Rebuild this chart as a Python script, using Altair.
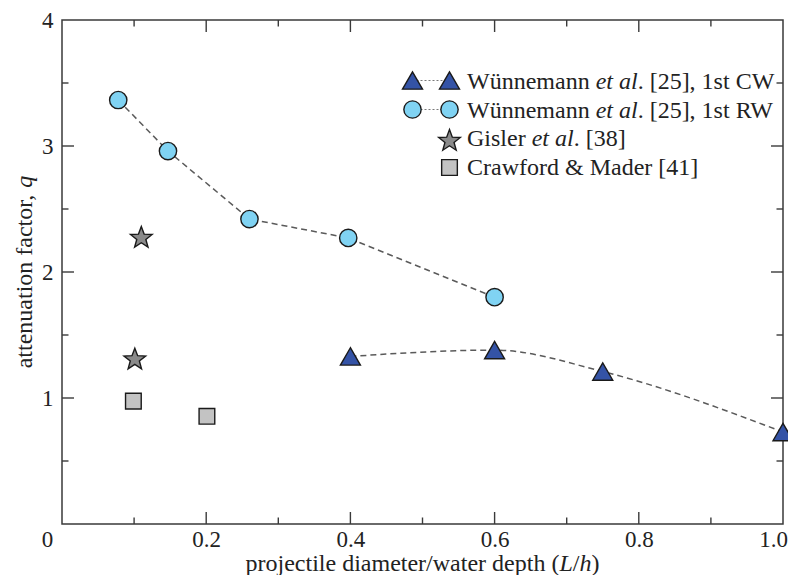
import altair as alt
import pandas as pd

# ---------------- data ----------------
cw_x = [0.40, 0.60, 0.75, 1.00]          # Wünnemann et al. [25], 1st CW (triangles)
cw_q = [1.33, 1.38, 1.21, 0.73]
rw_x = [0.078, 0.147, 0.26, 0.397, 0.60]  # Wünnemann et al. [25], 1st RW (circles)
rw_q = [3.365, 2.96, 2.42, 2.27, 1.80]
gisler_x = [0.110, 0.101]                 # Gisler et al. [38] (stars)
gisler_q = [2.27, 1.305]
cm_x = [0.099, 0.201]                     # Crawford & Mader [41] (squares)
cm_q = [0.975, 0.855]

x_major = [0.2, 0.4, 0.6, 0.8]
x_minor = [0.1, 0.3, 0.5, 0.7, 0.9]
y_major = [1, 2, 3]
y_minor = [0.5, 1.5, 2.5, 3.5]
x_labels = [0, 0.2, 0.4, 0.6, 0.8, 1.0]
y_labels = [1, 2, 3, 4]

legend_labels = [
    ("Wünnemann ", "et al", ". [25], 1st CW"),
    ("Wünnemann ", "et al", ". [25], 1st RW"),
    ("Gisler ", "et al", ". [38]"),
    ("Crawford & Mader [41]", "", ""),
]
x_title = ("projectile diameter/water depth (", "L", "/", "h", ")")
y_title = ("attenuation factor, ", "q")

# ---------------- layout / style ----------------
W, H = 721, 504
FONT = "Liberation Serif"
TICK_FS = 23
LEG_FS = 24
TITLE_FS = 24
AX = "#3a3a3a"
C_TRI = "#3453a6"
C_CIR = "#80d3f3"
C_STAR = "#8a8a8a"
C_SQ = "#c3c3c3"
EDGE = "#1a1a1a"
STAR = ("M0,-1L0.247,-0.34L0.951,-0.309L0.399,0.13L0.588,0.809L0,0.42"
        "L-0.588,0.809L-0.399,0.13L-0.951,-0.309L-0.247,-0.34Z")

# Times-compatible advance widths (1/1000 em)
REG = {c: 500 for c in "0123456789bdghknopquvxy"}
REG.update({"a": 444, "c": 444, "e": 444, "z": 444, "f": 333, "r": 333, "s": 389,
            "i": 278, "j": 278, "l": 278, "t": 278, "m": 778, "w": 722, "ü": 500,
            " ": 250, ",": 250, ".": 250, "/": 278, "(": 333, ")": 333, "[": 333,
            "]": 333, "&": 778, "W": 944, "G": 722, "C": 667, "M": 889, "R": 667})
ITA = {"e": 444, "t": 278, " ": 250, "a": 500, "l": 278, "L": 556, "h": 500, "q": 500}


def tw(s, size, italic=False):
    table = ITA if italic else REG
    return sum(table.get(ch, 500) for ch in s) / 1000.0 * size


one = pd.DataFrame({"k": [0]})

xs = alt.Scale(domain=[0, 1], nice=False, zero=False)
ys = alt.Scale(domain=[0, 4], nice=False, zero=False)
xaxis = alt.Axis(orient="bottom", values=x_labels,
                 labelExpr="datum.value == 0 ? '0' : format(datum.value, '.1f')",
                 labelOffset={"condition": [{"test": "datum.value == 0", "value": -15},
                                            {"test": "datum.value == 1", "value": -10}],
                              "value": 0},
                 labelFlush=False, domain=False, ticks=False, grid=False, title=None,
                 labelFont=FONT, labelFontSize=TICK_FS, labelColor="#222", labelPadding=4)
yaxis = alt.Axis(orient="left", values=y_labels, format="d", labelFlush=False, domain=False,
                 ticks=False, grid=False, title=None, labelFont=FONT, labelFontSize=TICK_FS,
                 labelColor="#222", labelPadding=9)


def X():
    return alt.X("x:Q", scale=xs, axis=xaxis)


def Y():
    return alt.Y("q:Q", scale=ys, axis=yaxis)


layers = []

# ---- dashed connecting lines ----
rw = pd.DataFrame({"x": rw_x, "q": rw_q})
cw = pd.DataFrame({"x": cw_x, "q": cw_q})
for d, interp in ((rw, "linear"), (cw, "monotone")):
    layers.append(alt.Chart(d).mark_line(color="#5a5a5a", strokeWidth=1.5, strokeDash=[6, 4],
                                         interpolate=interp).encode(x=X(), y=Y()))

# ---- inward ticks on all four sides ----
for vals, ln in ((y_major, 12), (y_minor, 6.5)):
    d = pd.DataFrame({"q": vals})
    layers.append(alt.Chart(d).mark_rule(color=AX, strokeWidth=1.4).encode(
        y=Y(), x=alt.value(0), x2=alt.value(ln)))
    layers.append(alt.Chart(d).mark_rule(color=AX, strokeWidth=1.4).encode(
        y=Y(), x=alt.value(W - ln), x2=alt.value(W)))
for vals, ln in ((x_major, 12), (x_minor, 6.5)):
    d = pd.DataFrame({"x": vals})
    layers.append(alt.Chart(d).mark_rule(color=AX, strokeWidth=1.4).encode(
        x=X(), y=alt.value(H - ln), y2=alt.value(H)))
    layers.append(alt.Chart(d).mark_rule(color=AX, strokeWidth=1.4).encode(
        x=X(), y=alt.value(0), y2=alt.value(ln)))

# ---- data points ----
series = [
    (cm_x, cm_q, "square", C_SQ, 246),
    (gisler_x, gisler_q, STAR, C_STAR, 520),
    (rw_x, rw_q, "circle", C_CIR, 300),
    (cw_x, cw_q, "triangle-up", C_TRI, 400),
]
for xv, qv, shape, fill, size in series:
    d = pd.DataFrame({"x": xv, "q": qv})
    layers.append(alt.Chart(d).mark_point(shape=shape, filled=True, fill=fill, stroke=EDGE,
                                          strokeWidth=1.4, size=size, opacity=1).encode(
        x=X(), y=Y()))

# ---- legend ----
LX = 405          # text start (plot px)
S1, S2 = 350.5, 387.5
row_y = [62, 90.5, 119, 147.5]
sym_y = [60.5, 89.5, 121, 147.5]
legend_syms = [
    [(S1, "triangle-up", C_TRI, 400), (S2, "triangle-up", C_TRI, 400)],
    [(S1, "circle", C_CIR, 300), (S2, "circle", C_CIR, 300)],
    [(S2, STAR, C_STAR, 520)],
    [(S2, "square", C_SQ, 246)],
]
for i, syms in enumerate(legend_syms):
    if len(syms) == 2:
        layers.append(alt.Chart(one).mark_rule(color="#7a7a7a", strokeWidth=1.2,
                                               strokeDash=[2, 2]).encode(
            x=alt.value(S1), x2=alt.value(S2), y=alt.value(sym_y[i])))
    for sx, shape, fill, size in syms:
        layers.append(alt.Chart(one).mark_point(shape=shape, filled=True, fill=fill, stroke=EDGE,
                                                strokeWidth=1.4, size=size, opacity=1).encode(
            x=alt.value(sx), y=alt.value(sym_y[i])))

for i, (pre, ital, post) in enumerate(legend_labels):
    x0 = LX
    for txt, italic in ((pre, False), (ital, True), (post, False)):
        if txt:
            layers.append(alt.Chart(one).mark_text(
                font=FONT, fontSize=LEG_FS, fontStyle="italic" if italic else "normal",
                align="left", baseline="middle", color="#222").encode(
                text=alt.value(txt.strip()), x=alt.value(x0), y=alt.value(row_y[i])))
            x0 += tw(txt, LEG_FS, italic)

# ---- axis titles (mixed italic) ----
xt_parts = [(x_title[0], False), (x_title[1], True), (x_title[2], False),
            (x_title[3], True), (x_title[4], False)]
total = sum(tw(t, TITLE_FS, it) for t, it in xt_parts)
x0 = W / 2 - total / 2
for t, it in xt_parts:
    layers.append(alt.Chart(one).mark_text(
        font=FONT, fontSize=TITLE_FS, fontStyle="italic" if it else "normal",
        align="left", baseline="alphabetic", color="#222").encode(
        text=alt.value(t), x=alt.value(x0), y=alt.value(H + 47)))
    x0 += tw(t, TITLE_FS, it)

yt_parts = [(y_title[0], False), (y_title[1], True)]
total = sum(tw(t, TITLE_FS, it) for t, it in yt_parts)
y0 = H / 2 + total / 2
for t, it in yt_parts:
    layers.append(alt.Chart(one).mark_text(
        font=FONT, fontSize=TITLE_FS, fontStyle="italic" if it else "normal",
        align="left", baseline="alphabetic", angle=270, color="#222").encode(
        text=alt.value(t.strip()), x=alt.value(-30), y=alt.value(y0)))
    y0 -= tw(t, TITLE_FS, it)

chart = alt.layer(*layers).properties(
    width=W, height=H,
    autosize=alt.AutoSizeParams(type="none"),
    padding={"left": 54, "top": 12, "right": 5, "bottom": 51},
).configure_view(stroke=AX, strokeWidth=1.5)

chart.save("out.html", embed_options={"renderer": "svg", "actions": False})
